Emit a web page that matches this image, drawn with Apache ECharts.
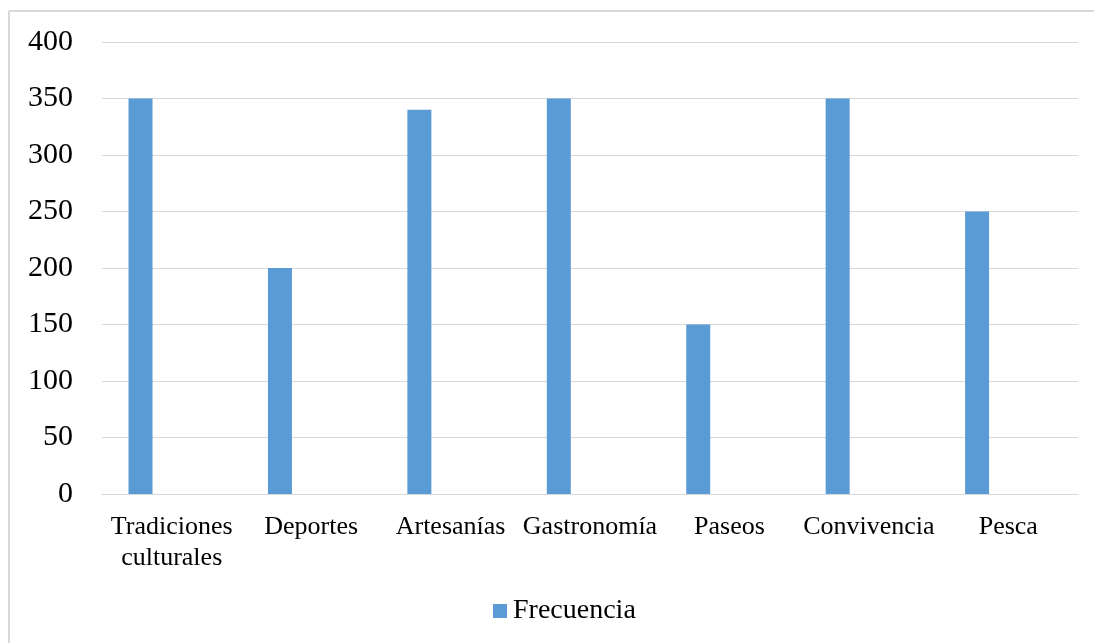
<!DOCTYPE html>
<html>
<head>
<meta charset="utf-8">
<script src="https://cdn.jsdelivr.net/npm/echarts@6/dist/echarts.min.js"></script>
<style>html,body{margin:0;padding:0;background:#fff;}#c{width:1094px;height:643px;}</style>
</head>
<body>
<div id="c"></div>
<script>
const categories = ['Tradiciones\nculturales', 'Deportes', 'Artesanías', 'Gastronomía', 'Paseos', 'Convivencia', 'Pesca'];
const frecuencia = [350, 200, 340, 350, 150, 350, 250];
const empty = ['-', '-', '-', '-', '-', '-', '-'];
const yTicks = { min: 0, max: 400, interval: 50 };

const chart = echarts.init(document.getElementById('c'));
const font = '"Liberation Serif", "Times New Roman", serif';
chart.setOption({
  animation: false,
  backgroundColor: '#fff',
  graphic: [
    { type: 'line', shape: { x1: 9, y1: 11, x2: 1094, y2: 11 }, style: { stroke: '#d9d9d9', lineWidth: 2 } },
    { type: 'line', shape: { x1: 9, y1: 11, x2: 9, y2: 643 }, style: { stroke: '#d9d9d9', lineWidth: 2 } }
  ],
  grid: { left: 102, right: 16, top: 42, bottom: 149, containLabel: false },
  legend: {
    data: ['Frecuencia'],
    top: 592,
    left: 488,
    itemWidth: 14, itemHeight: 14, itemGap: 5,
    icon: 'rect',
    textStyle: { fontFamily: font, fontSize: 28, color: '#000', padding: [0, 0, 0, 1] }
  },
  xAxis: {
    type: 'category',
    data: categories,
    axisLine: { show: true, lineStyle: { color: '#d9d9d9', width: 1 } },
    axisTick: { show: false },
    axisLabel: { fontFamily: font, fontSize: 26, color: '#000', margin: 18, lineHeight: 31, interval: 0 }
  },
  yAxis: {
    type: 'value',
    min: yTicks.min, max: yTicks.max, interval: yTicks.interval,
    axisLine: { show: false },
    axisTick: { show: false },
    splitLine: { lineStyle: { color: '#d9d9d9', width: 1 } },
    axisLabel: { fontFamily: font, fontSize: 30, color: '#000', margin: 29 }
  },
  series: [
    { name: 'Frecuencia', type: 'bar', data: frecuencia, barWidth: 24, barGap: '30%', itemStyle: { color: '#5b9bd5' } },
    { name: 's2', type: 'bar', data: empty, barWidth: 24, barGap: '30%' },
    { name: 's3', type: 'bar', data: empty, barWidth: 24, barGap: '30%' }
  ]
});
</script>
</body>
</html>
